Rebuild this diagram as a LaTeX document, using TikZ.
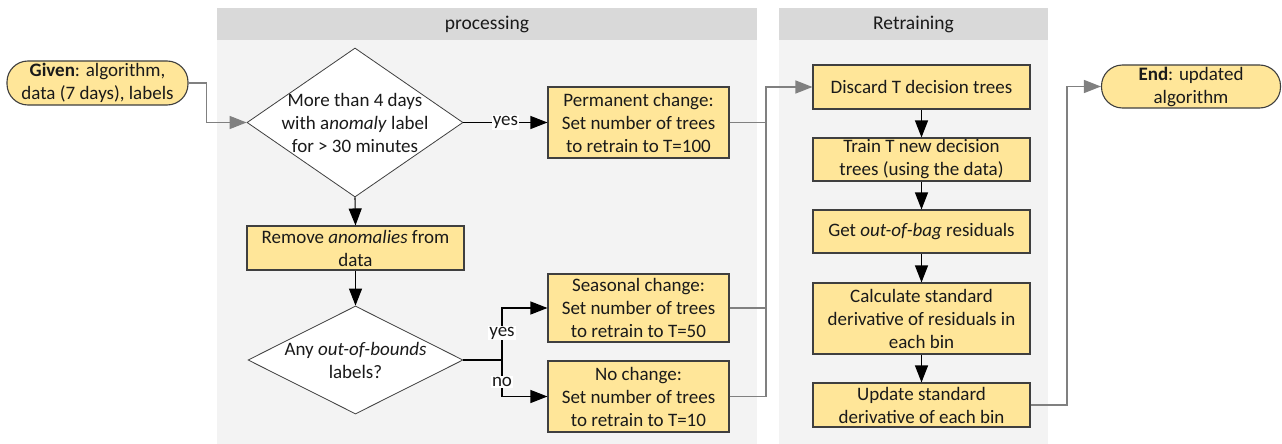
\documentclass[tikz,border=0pt]{standalone}
\usepackage{fontspec}
\setmainfont{Carlito}
\usetikzlibrary{shapes.geometric,arrows.meta}

\definecolor{boxfill}{HTML}{FFE699}
\definecolor{boxline}{HTML}{3F3F3F}
\definecolor{linegray}{HTML}{808080}
\definecolor{lanehead}{HTML}{D9D9D9}
\definecolor{lanebody}{HTML}{F3F3F3}
\definecolor{textcol}{HTML}{1A1A1A}

\begin{document}
\begin{tikzpicture}[x=1pt,y=-1pt,
  font=\fontsize{19}{23}\selectfont, text=textcol,
  box/.style={draw=boxline, fill=boxfill, line width=1.1pt, align=center, inner sep=0pt},
  pill/.style={box, rounded corners=21pt},
  decision/.style={diamond, draw=boxline, fill=white, line width=0.8pt, inner sep=0pt},
  flow/.style={draw=black, line width=1.1pt, -{Triangle[length=17pt,width=13pt]}},
  gline/.style={draw=linegray, line width=1.4pt},
  gflow/.style={gline, -{Triangle[length=17pt,width=13pt]}},
  tag/.style={fill=white, inner sep=1pt, text=textcol},
  lanetitle/.style={font=\fontsize{19.5}{22}\selectfont, text=textcol}
]
\useasboundingbox (0,0) rectangle (1282,444);

% swim lanes
\fill[lanebody] (217,40) rectangle (757,444);
\fill[lanehead] (217,8) rectangle (757,40);
\node[lanetitle] (lane1) at (487,24) {processing};
\fill[lanebody] (779,40) rectangle (1048,444);
\fill[lanehead] (779,8) rectangle (1048,40);
\node[lanetitle] (lane2) at (913.5,24) {Retraining};

% start and end terminals
\node[pill, minimum width=181pt, minimum height=44pt] (given) at (97.5,83)
  {\textbf{Given}: algorithm,\\data (7 days), labels};
\node[pill, minimum width=179pt, minimum height=43pt] (end) at (1191,86.5)
  {\textbf{End}: updated\\algorithm};

% processing lane
\node[decision, minimum width=216pt, minimum height=149pt,
  label={[align=center]center:More than 4 days\\with a\textit{nomaly} label\\for > 30 minutes}] (d1) at (355,122.5) {};
\node[box, minimum width=181pt, minimum height=71pt] (perm) at (638.5,122.5)
  {Permanent change:\\Set number of trees\\to retrain to T=100};
\node[box, minimum width=217pt, minimum height=44pt] (remove) at (355.5,248)
  {Remove \textit{anomalies} from\\data};
\node[decision, minimum width=215pt, minimum height=108pt,
  label={[align=center]center:Any \textit{out-of-bounds}\\labels?}] (d2) at (355.5,360) {};
\node[box, minimum width=181pt, minimum height=68pt] (seas) at (638.5,308)
  {Seasonal change:\\Set number of trees\\to retrain to T=50};
\node[box, minimum width=181pt, minimum height=71pt] (nochg) at (638.5,396.5)
  {No change:\\Set number of trees\\to retrain to T=10};

% retraining lane
\node[box, minimum width=217pt, minimum height=44pt] (discard) at (921.5,87)
  {Discard T decision trees};
\node[box, minimum width=217pt, minimum height=43pt] (train) at (921.5,159.5)
  {Train T new decision\\trees (using the data)};
\node[box, minimum width=217pt, minimum height=43pt] (oob) at (921.5,231.5)
  {Get \textit{out-of-bag} residuals};
\node[box, minimum width=217pt, minimum height=71pt] (calc) at (921.5,318.5)
  {Calculate standard\\derivative of residuals in\\each bin};
\node[box, minimum width=217pt, minimum height=44pt] (upd) at (921.5,405)
  {Update standard\\derivative of each bin};

% connectors
\coordinate (bus) at (766,0);
\coordinate (split) at (502,0);
\coordinate (exit) at (1067,0);

\draw[gflow] (given.east) -- ++(18,0) |- (d1.west);
\draw[flow] (d1.east) -- node[tag] (yes1) {yes} (perm.west);
\draw[flow] (d1.south) -- (remove.north);
\draw[flow] (remove.south) -- (d2.north);
\draw[line width=1.1pt] (d2.east) -- (d2.east -| split);
\draw[flow] (d2.east -| split) |- node[tag, pos=0.26] (yes2) {yes} (seas.west);
\draw[flow] (d2.east -| split) |- node[tag, pos=0.3] (no2) {no} (nochg.west);

\draw[gline] (perm.east) -- (perm.east -| bus);
\draw[gline] (seas.east) -- (seas.east -| bus);
\draw[gflow] (nochg.east) -| (bus |- discard.west) -- (discard.west);

\draw[flow] (discard.south) -- (train.north);
\draw[flow] (train.south) -- (oob.north);
\draw[flow] (oob.south) -- (calc.north);
\draw[flow] (calc.south) -- (upd.north);

\draw[gflow] (upd.east) -| (exit |- end.west) -- (end.west);
\end{tikzpicture}
\end{document}
